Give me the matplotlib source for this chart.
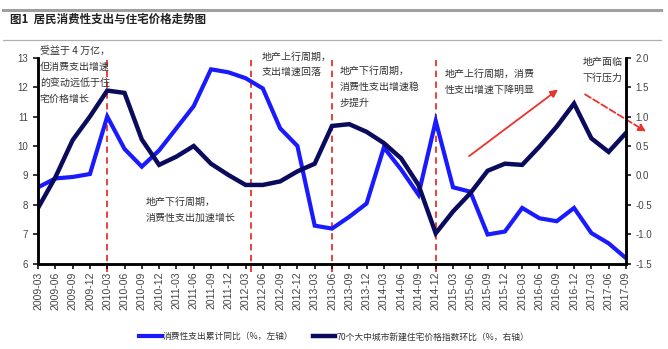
import matplotlib.pyplot as plt
from matplotlib.lines import Line2D

plt.rcParams['font.family'] = ['Noto Sans CJK SC', 'DejaVu Sans']

# 季度标签 2009-03 ~ 2017-09
years = list(range(2009, 2018))
months = ['03', '06', '09', '12']
quarters = [f'{y}-{m}' for y in years for m in months][:35]

# 消费性支出累计同比（%，左轴）
consumption = [8.6, 8.9, 8.95, 9.05, 11.0, 9.9, 9.3, 9.85, 10.6, 11.35,
               12.6, 12.5, 12.3, 11.95, 10.6, 10.0, 7.3, 7.2, 7.6, 8.05,
               9.95, 9.2, 8.35, 10.85, 8.6, 8.45, 7.0, 7.1, 7.9, 7.55,
               7.45, 7.9, 7.05, 6.7, 6.2]
# 70个大中城市新建住宅价格指数环比（%，右轴）
house_price = [-0.55, -0.03, 0.6, 1.0, 1.44, 1.4, 0.61, 0.18, 0.32, 0.5,
               0.2, 0.01, -0.16, -0.16, -0.1, 0.07, 0.2, 0.84, 0.87, 0.74,
               0.55, 0.29, -0.16, -0.98, -0.61, -0.3, 0.08, 0.2, 0.18, 0.49,
               0.83, 1.22, 0.63, 0.40, 0.72]

# 周期分界（季度序号）
cycle_marks = [4, 12.3, 17, 23]

blue = '#1a1aff'
navy = '#0b0b5e'
red = '#e8322c'
txt = '#333333'

fig = plt.figure(figsize=(6.68, 3.49), dpi=100)
ax = fig.add_axes([0.057, 0.2436, 0.88, 0.5916])
ax2 = ax.twinx()

x = list(range(len(quarters)))
ax.plot(x, consumption, color=blue, lw=3.0, solid_joinstyle='miter')
ax2.plot(x, house_price, color=navy, lw=3.2, solid_joinstyle='miter')

ax.set_xlim(0, 34)
ax.set_ylim(6, 13)
ax2.set_ylim(-1.5, 2.0)
ax.set_yticks(range(6, 14))
ax2.set_yticks([-1.5, -1.0, -0.5, 0.0, 0.5, 1.0, 1.5, 2.0])
ax2.set_yticklabels([f'{v:.1f}' for v in ax2.get_yticks()])
ax.set_xticks(x)
ax.set_xticklabels(quarters, rotation=90, family='Liberation Sans',
                   fontsize=7.5, color='#444444')

for a in (ax, ax2):
    a.spines['top'].set_visible(False)
    for s in ('left', 'right', 'bottom'):
        a.spines[s].set_linewidth(1.8)
    a.tick_params(direction='out', length=3.5, width=1.2, colors='#111111',
                  labelcolor='#444444')
    a.tick_params(axis='y', labelsize=7)
ax.tick_params(axis='x', pad=2)
for lab in ax.get_yticklabels() + ax2.get_yticklabels():
    lab.set_family('Liberation Sans')

# 周期分界虚线
for m in cycle_marks:
    ax.axvline(m, ymin=-0.04, ymax=0.99, color=red, lw=1.3,
               ls=(0, (3.5, 2.5)), clip_on=False, zorder=1)

# 注释文字
notes = [
    (0.1, 13.4, '受益于 4 万亿，\n但消费支出增速\n的变动远低于住\n宅价格增长', 1.75),
    (12.95, 13.18, '地产上行周期，\n支出增速回落', 1.55),
    (17.45, 12.72, '地产下行周期，\n消费性支出增速稳\n步提升', 1.75),
    (23.5, 12.62, '地产上行周期，消费\n性支出增速下降明显', 1.75),
    (31.5, 13.02, '地产面临\n下行压力', 1.75),
    (6.2, 8.28, '地产下行周期，\n消费性支出加速增长', 1.75),
]
for nx, ny, s, ls in notes:
    ax.text(nx, ny, s, fontsize=7.2, color=txt, ha='left', va='top',
            linespacing=ls, zorder=5)

# 趋势箭头
ax.annotate('', xy=(30.2, 11.97), xytext=(24.8, 9.6),
            arrowprops=dict(arrowstyle='-|>', color=red, lw=1.3,
                            mutation_scale=11),
            annotation_clip=False)
ax.annotate('', xy=(35.3, 10.44), xytext=(31.5, 11.8),
            arrowprops=dict(arrowstyle='-|>', color=red, lw=1.3, ls='--',
                            mutation_scale=11),
            annotation_clip=False)

# 图例
handles = [Line2D([], [], color=blue, lw=3.0),
           Line2D([], [], color=navy, lw=3.2)]
labels = ['消费性支出累计同比（%，左轴）', '70个大中城市新建住宅价格指数环比（%，右轴）']
fig.legend(handles, labels, loc='center', bbox_to_anchor=(0.5, 0.035),
           ncol=2, frameon=False, fontsize=6.3, handlelength=2.6,
           handletextpad=0.1, columnspacing=2.2, labelcolor=txt)

# 标题与分隔线
fig.add_artist(Line2D([0.005, 0.99], [0.971, 0.971], color='#a0a0a0', lw=2.2))
fig.add_artist(Line2D([0.005, 0.99], [0.886, 0.886], color='#b0b0b0', lw=0.9))
fig.text(0.015, 0.946, '图1  居民消费性支出与住宅价格走势图', fontsize=8.3,
         fontweight='bold', color='#222222', va='center', ha='left')

fig.savefig('out.png', dpi=100)
